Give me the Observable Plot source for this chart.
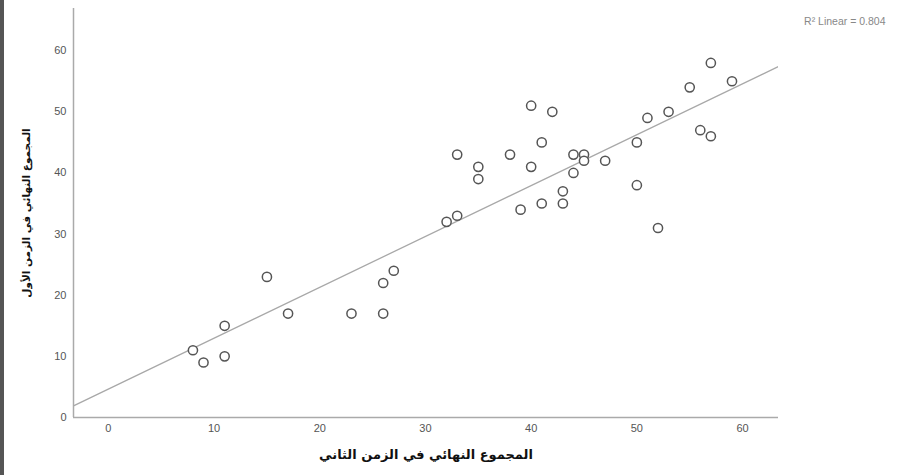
<!DOCTYPE html>
<html>
<head>
<meta charset="utf-8">
<script src="https://cdn.jsdelivr.net/npm/d3@7"></script>
<script src="https://cdn.jsdelivr.net/npm/@observablehq/plot@0.6"></script>
<style>
  html, body { margin: 0; padding: 0; background: #fff; }
  #wrap { position: relative; width: 900px; height: 475px; overflow: hidden; }
  #stripe { position: absolute; left: 0; top: 0; width: 4px; height: 475px; background: #555; }
</style>
</head>
<body>
<div id="wrap"><div id="stripe"></div></div>
<script>
// Final total, second time (x) vs final total, first time (y)
const secondTime = [8, 9, 11, 11, 15, 17, 23, 26, 26, 27, 32, 33, 33, 35, 35, 38, 39, 40, 40, 41, 41, 42, 43, 43, 44, 44, 45, 45, 47, 50, 50, 51, 52, 53, 55, 56, 57, 57, 59];
const firstTime  = [11, 9, 15, 10, 23, 17, 17, 17, 22, 24, 32, 33, 43, 41, 39, 43, 34, 51, 41, 45, 35, 50, 37, 35, 40, 43, 43, 42, 42, 45, 38, 49, 31, 50, 54, 47, 58, 46, 55];
const xTicks = [0, 10, 20, 30, 40, 50, 60];
const yTicks = [0, 10, 20, 30, 40, 50, 60];
const xTitle = "المجموع النهائي في الزمن الثاني";
const yTitle = "المجموع النهائي في الزمن الأول";
const r2Label = "R² Linear = 0.804";

const xDomain = [-3.3, 63.4];
const yDomain = [0, 66.9];

const points = secondTime.map((x, i) => ({x, y: firstTime[i]}));

// least-squares fit from the data
const mx = d3.mean(secondTime), my = d3.mean(firstTime);
const sxy = d3.sum(points, d => (d.x - mx) * (d.y - my));
const sxx = d3.sum(points, d => (d.x - mx) ** 2);
const slope = sxy / sxx, intercept = my - slope * mx;
const fitLine = xDomain.map(x => ({x, y: intercept + slope * x}));

const chart = Plot.plot({
  width: 900,
  height: 475,
  marginLeft: 73,
  marginRight: 122,
  marginTop: 8,
  marginBottom: 58,
  style: {fontFamily: "'Liberation Sans', Arial, sans-serif", fontSize: "11px", color: "#555", background: "transparent"},
  x: {domain: xDomain, ticks: xTicks, tickSize: 0, tickPadding: 7, label: null},
  y: {domain: yDomain, ticks: yTicks, tickSize: 0, tickPadding: 7, label: null},
  marks: [
    Plot.line(fitLine, {x: "x", y: "y", stroke: "#a8a8a8", strokeWidth: 1.3, clip: true}),
    Plot.dot(points, {x: "x", y: "y", r: 4.6, stroke: "#555", strokeWidth: 1.5, fill: "white"}),
    Plot.ruleX([xDomain[0]], {stroke: "#aaa", strokeWidth: 1.5}),
    Plot.ruleY([yDomain[0]], {stroke: "#aaa", strokeWidth: 1.5}),
    Plot.text([xTitle], {frameAnchor: "bottom", dy: 41, text: d => d, fontFamily: "'DejaVu Sans', sans-serif", fontWeight: "bold", fontSize: 13, fill: "#111"}),
    Plot.text([yTitle], {frameAnchor: "left", textAnchor: "middle", dx: -47, rotate: -90, text: d => d, fontFamily: "'DejaVu Sans', sans-serif", fontWeight: "bold", fontSize: 10.5, fill: "#111"}),
    Plot.text([r2Label], {frameAnchor: "top-right", dx: 107, dy: 9, textAnchor: "end", text: d => d, fontSize: 10.5, fill: "#888"})
  ]
});
document.getElementById("wrap").appendChild(chart);
</script>
</body>
</html>
